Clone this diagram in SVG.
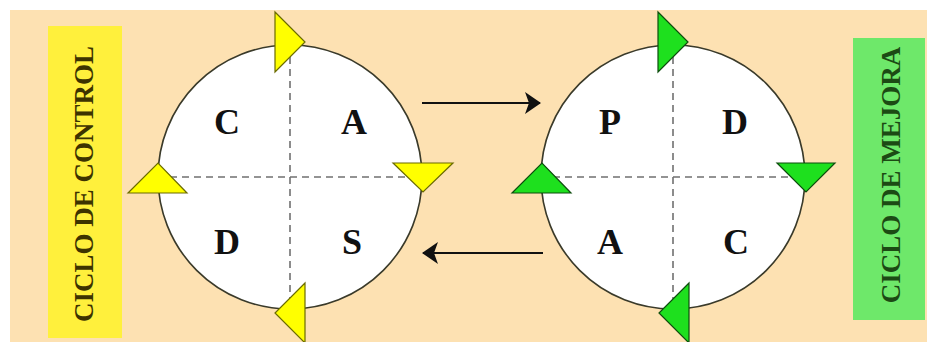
<svg xmlns="http://www.w3.org/2000/svg" width="927" height="342" viewBox="0 0 927 342">
<defs>
<style>
.circ{fill:#ffffff;stroke:#3a3a2a;stroke-width:1.6}
.dash{stroke:#707070;stroke-width:1.6;stroke-dasharray:7 5;fill:none}
.tri-y{fill:#ffff00;stroke:#6b6b00;stroke-width:1.2;stroke-linejoin:miter}
.tri-g{fill:#1ee01e;stroke:#0d4d0d;stroke-width:1.2;stroke-linejoin:miter}
.letter{font-family:"Liberation Serif","Times New Roman",serif;font-weight:bold;font-size:36px;fill:#111111;text-anchor:middle}
.side{font-family:"Liberation Serif","Times New Roman",serif;font-weight:bold;font-size:27px;text-anchor:middle}
.conn{stroke:#111111;stroke-width:2.2;fill:none}
</style>
<marker id="ah" viewBox="0 0 16 22" refX="15" refY="11" markerWidth="16" markerHeight="22" markerUnits="userSpaceOnUse" orient="auto">
<path d="M0,0 L16,11 L0,22 L4,11 Z" fill="#111111"/>
</marker>
</defs>
<rect x="0" y="0" width="927" height="342" fill="#ffffff"/>
<rect x="10" y="10" width="917" height="332" fill="#fde1b2"/>

<g id="label-control">
<rect x="48" y="26" width="74" height="312" fill="#fff03c"/>
<text class="side" fill="#3d3300" transform="translate(93,184) rotate(-90)">CICLO DE CONTROL</text>
</g>

<g id="label-mejora">
<rect x="853" y="38" width="72" height="282" fill="#6ee86a"/>
<text class="side" fill="#1c4a14" transform="translate(900,175) rotate(-90)">CICLO DE MEJORA</text>
</g>

<g id="cycle-control">
<circle class="circ" cx="290" cy="177" r="132"/>
<line class="dash" x1="290" y1="45" x2="290" y2="309"/>
<line class="dash" x1="158" y1="177" x2="422" y2="177"/>
<polygon class="tri-y" points="275,12 305,42 275,72"/>
<polygon class="tri-y" points="393,163 453,163 423,192"/>
<polygon class="tri-y" points="305,283 275,313 305,343"/>
<polygon class="tri-y" points="128,193 158,163 187,193"/>
<text class="letter" x="227" y="134">C</text>
<text class="letter" x="354" y="134">A</text>
<text class="letter" x="227" y="254">D</text>
<text class="letter" x="352" y="254">S</text>
</g>

<g id="cycle-mejora">
<circle class="circ" cx="673" cy="177" r="132"/>
<line class="dash" x1="673" y1="45" x2="673" y2="309"/>
<line class="dash" x1="541" y1="177" x2="805" y2="177"/>
<polygon class="tri-g" points="658,12 688,42 658,72"/>
<polygon class="tri-g" points="777,163 835,163 806,192"/>
<polygon class="tri-g" points="689,283 659,313 689,343"/>
<polygon class="tri-g" points="512,193 542,163 571,193"/>
<text class="letter" x="610" y="134">P</text>
<text class="letter" x="735" y="134">D</text>
<text class="letter" x="610" y="254">A</text>
<text class="letter" x="736" y="254">C</text>
</g>

<g id="connectors">
<line class="conn" x1="422" y1="103" x2="540" y2="103" marker-end="url(#ah)"/>
<line class="conn" x1="543" y1="253" x2="423" y2="253" marker-end="url(#ah)"/>
</g>
</svg>
